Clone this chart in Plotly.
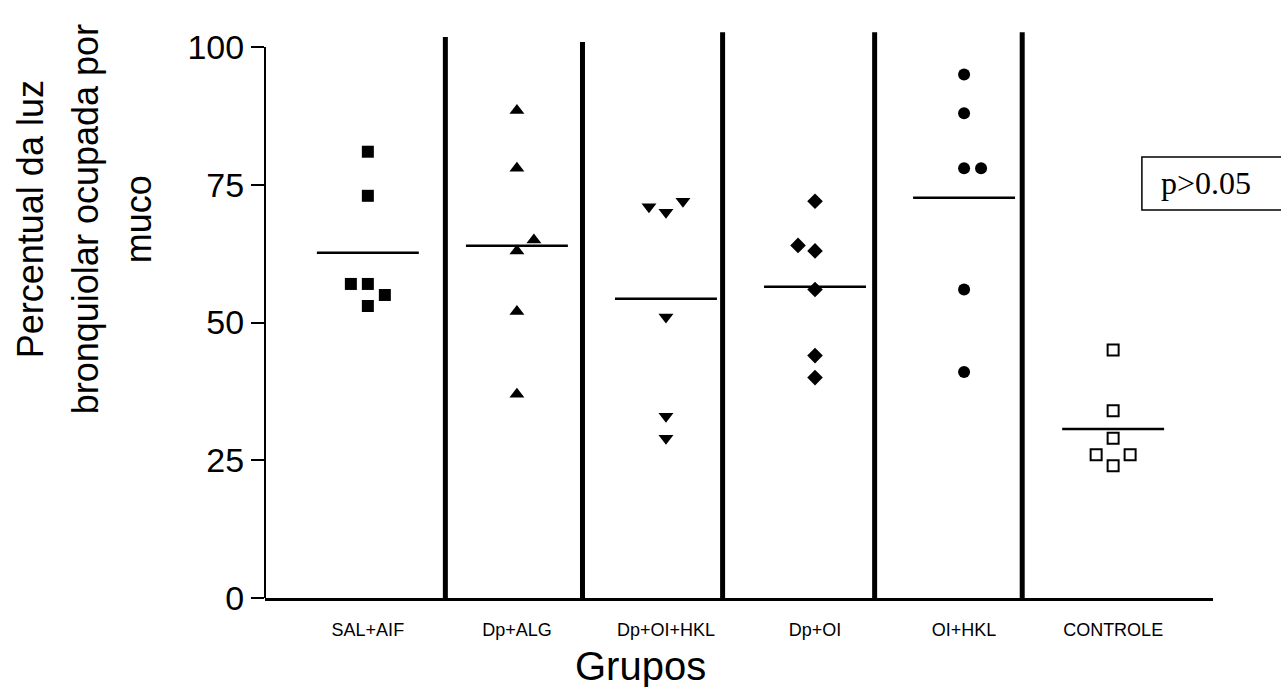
import plotly.graph_objects as go

# Groups and measured values (% of bronchiolar lumen occupied by mucus)
groups = ["SAL+AIF", "Dp+ALG", "Dp+OI+HKL", "Dp+OI", "OI+HKL", "CONTROLE"]
sal_aif = [81, 73, 57, 57, 55, 53]
dp_alg = [88.5, 78, 65, 63, 52, 37]
dp_oi_hkl = [71, 70, 72, 51, 33, 29]
dp_oi = [72, 64, 63, 56, 44, 40]
oi_hkl = [95, 88, 78, 78, 56, 41]
controle = [45, 34, 29, 26, 26, 24]
y_ticks = [0, 25, 50, 75, 100]
p_text = "p>0.05"

series = [sal_aif, dp_alg, dp_oi_hkl, dp_oi, oi_hkl, controle]

# Side-by-side dodge for overlapping points (in units of one step)
dodge = [
    [0, 0, -1, 0, 1, 0],
    [0, 0, 1, 0, 0, 0],
    [-1, 0, 1, 0, 0, 0],
    [0, -1, 0, 0, 0, 0],
    [0, 0, 0, 1, 0, 0],
    [0, 0, 0, -1, 1, 0],
]
step = 0.114
symbols = ["square", "triangle-up", "triangle-down", "diamond", "circle", "square-open"]
sizes = [12, 13, 13, 12, 12, 11]

# Vertical dividers between groups (category units) and their top ends
divider_x = [0.52, 1.44, 2.38, 3.40, 4.39]
divider_top = [101.8, 100.9, 102.7, 102.7, 102.7]
half_len = 0.342

fig = go.Figure()

for i, (vals, dd) in enumerate(zip(series, dodge)):
    xs = [i + d * step for d in dd]
    fig.add_trace(go.Scatter(
        x=xs, y=vals, mode="markers",
        marker=dict(symbol=symbols[i], size=sizes[i], color="black",
                    line=dict(color="black", width=2 if i == 5 else 0)),
        showlegend=False, hoverinfo="y",
    ))
    mean = sum(vals) / len(vals)
    fig.add_shape(type="line", xref="x", yref="y",
                  x0=i - half_len, x1=i + half_len, y0=mean, y1=mean,
                  line=dict(color="black", width=2.5))

for xd, top in zip(divider_x, divider_top):
    fig.add_shape(type="line", xref="x", yref="y", x0=xd, x1=xd, y0=0, y1=top,
                  line=dict(color="black", width=5))

# y-axis line only spans 0..100
fig.add_shape(type="line", xref="paper", yref="y", x0=0, x1=0, y0=0, y1=100,
              line=dict(color="black", width=2))

# p-value box
fig.add_shape(type="rect", xref="paper", yref="paper",
              x0=0.925, x1=1.08, y0=0.677, y1=0.7696,
              line=dict(color="black", width=1.5), fillcolor="white")
fig.add_annotation(xref="paper", yref="paper", x=0.943, y=0.724,
                   text=p_text, showarrow=False, xanchor="left", yanchor="middle",
                   font=dict(family="Liberation Serif, Times New Roman", size=32, color="black"))

# y-axis title, one annotation per line
title_lines = ["Percentual da luz", "bronquiolar ocupada por", "muco"]
title_x_px = [30, 85, 138]
for txt, px in zip(title_lines, title_x_px):
    fig.add_annotation(xref="paper", yref="paper", x=(px - 265) / 948, y=0.661,
                       text=txt, textangle=-90, showarrow=False,
                       xanchor="center", yanchor="middle",
                       font=dict(family="Liberation Sans, Arial", size=36, color="black"))

fig.add_annotation(xref="paper", yref="paper", x=(640 - 265) / 948, y=-0.118,
                   text="Grupos", showarrow=False, xanchor="center", yanchor="middle",
                   font=dict(family="Liberation Sans, Arial", size=40, color="black"))

fig.update_layout(
    width=1281, height=687,
    margin=dict(l=265, r=68, t=25, b=89),
    plot_bgcolor="white", paper_bgcolor="white",
    xaxis=dict(range=[-0.69, 5.67], tickmode="array", tickvals=list(range(len(groups))),
               ticktext=groups, ticks="", showline=True, linecolor="black", linewidth=2.5,
               showgrid=False, zeroline=False, ticklabelstandoff=14,
               tickfont=dict(family="Liberation Sans, Arial", size=18, color="black")),
    yaxis=dict(range=[0, 104], tickmode="array", tickvals=y_ticks, ticks="outside",
               ticklen=13, tickwidth=2, tickcolor="black", showline=False,
               showgrid=False, zeroline=False,
               tickfont=dict(family="Liberation Sans, Arial", size=34, color="black")),
)

fig.write_html("out.html")
